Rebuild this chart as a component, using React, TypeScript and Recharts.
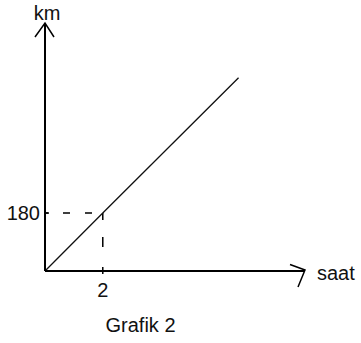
import { LineChart, Line, XAxis, YAxis, ReferenceLine, ReferenceDot } from "recharts";

const hours = [0, 2, 6.7];
const km = [0, 180, 600];
const xTicks = [2];
const yTicks = [180];
const xMax = 9;
const yMax = 770;

const data = hours.map((t, i) => ({ t, km: km[i] }));

const FONT = "'Liberation Sans', Arial, sans-serif";

const XTick = (props: any) => {
  const { x, y, payload } = props;
  return (
    <g>
      <line x1={x} y1={y - 4} x2={x} y2={y + 3} stroke="#000" strokeWidth={1.5} />
      <text x={x} y={y + 26} textAnchor="middle" fontSize={20} fontFamily={FONT} fill="#111">
        {payload.value}
      </text>
    </g>
  );
};

const YTick = (props: any) => {
  const { x, y, payload } = props;
  return (
    <g>
      <line x1={x} y1={y} x2={x + 4} y2={y} stroke="#000" strokeWidth={1.5} />
      <text x={x - 5} y={y + 7} textAnchor="end" fontSize={20} fontFamily={FONT} fill="#111">
        {payload.value}
      </text>
    </g>
  );
};

const YArrow = (props: any) => {
  const { cx, cy } = props;
  return (
    <g>
      <path d={`M${cx - 10},${cy + 14} L${cx},${cy} L${cx + 9},${cy + 14}`} fill="none" stroke="#000" strokeWidth={1.5} />
      <text x={cx + 2} y={cy - 3} textAnchor="middle" fontSize={20} fontFamily={FONT} fill="#111">
        km
      </text>
    </g>
  );
};

const XArrow = (props: any) => {
  const { cx, cy } = props;
  return (
    <g>
      <path d={`M${cx - 15},${cy - 6.5} L${cx},${cy - 1} L${cx - 7},${cy + 16}`} fill="none" stroke="#000" strokeWidth={1.5} />
      <text x={cx + 12} y={cy + 9} textAnchor="start" fontSize={20} fontFamily={FONT} fill="#111">
        saat
      </text>
    </g>
  );
};

export default function App() {
  return (
    <div style={{ position: "absolute", left: 0, top: 0, width: 361, height: 343, background: "#fff" }}>
      <LineChart width={361} height={343} data={data} margin={{ top: 23, right: 56, left: 0, bottom: 0 }}>
        <XAxis
          dataKey="t"
          type="number"
          domain={[0, xMax]}
          ticks={xTicks}
          height={72}
          tickLine={false}
          tickSize={0}
          tickMargin={0}
          tick={<XTick />}
          axisLine={{ stroke: "#000", strokeWidth: 2 }}
        />
        <YAxis
          type="number"
          domain={[0, yMax]}
          ticks={yTicks}
          width={45}
          tickLine={false}
          tickSize={0}
          tickMargin={0}
          tick={<YTick />}
          axisLine={{ stroke: "#000", strokeWidth: 2 }}
        />
        <ReferenceLine
          segment={[{ x: 0, y: 180 }, { x: 2, y: 180 }]}
          stroke="#000"
          strokeWidth={1.5}
          strokeDasharray="7 15"
          strokeDashoffset={4}
        />
        <ReferenceLine
          segment={[{ x: 2, y: 180 }, { x: 2, y: 0 }]}
          stroke="#000"
          strokeWidth={1.5}
          strokeDasharray="7 17 10 30"
        />
        <Line
          type="linear"
          dataKey="km"
          stroke="#111"
          strokeWidth={1.3}
          dot={false}
          isAnimationActive={false}
        />
        <ReferenceDot x={0} y={yMax} r={0} shape={<YArrow />} ifOverflow="visible" />
        <ReferenceDot x={xMax} y={0} r={0} shape={<XArrow />} ifOverflow="visible" />
      </LineChart>
      <div
        style={{
          position: "absolute",
          left: 0,
          top: 315,
          width: 281,
          textAlign: "center",
          fontFamily: FONT,
          fontSize: 20,
          lineHeight: "20px",
          color: "#111",
        }}
      >
        Grafik 2
      </div>
    </div>
  );
}
